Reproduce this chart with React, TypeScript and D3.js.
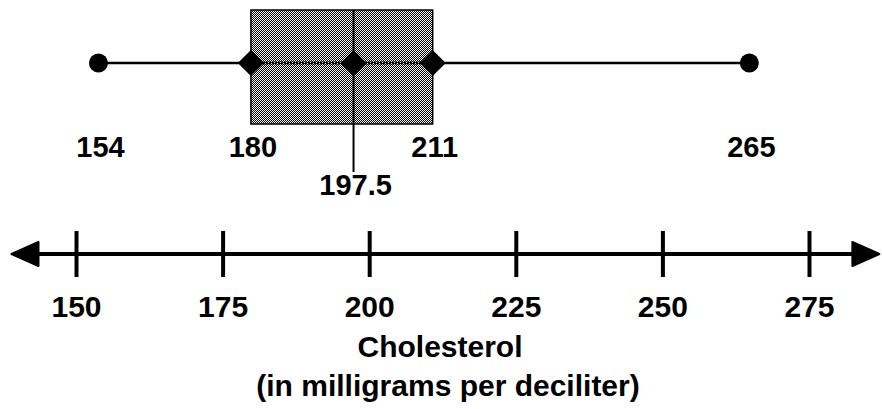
import React, { useRef, useEffect } from "react";
import * as d3 from "d3";

// five-number summary: min, Q1, median, Q3, max
const summaryValues = [154, 180, 197.5, 211, 265];
const summaryLabels = ["154", "180", "197.5", "211", "265"];
const tickValues = [150, 175, 200, 225, 250, 275];
const axisExtent = [139, 287];
const axisTitle = "Cholesterol";
const axisSubtitle = "(in milligrams per deciliter)";

const FONT = "'Liberation Sans', Arial, sans-serif";

const App: React.FC = () => {
  const svgRef = useRef<SVGSVGElement>(null);

  useEffect(() => {
    if (!svgRef.current) return;
    const width = 882;
    const height = 409;

    const svg = d3.select(svgRef.current).attr("width", width).attr("height", height);
    svg.selectAll("*").remove();

    // pattern for the shaded box
    const defs = svg.append("defs");
    const pat = defs
      .append("pattern")
      .attr("id", "dots")
      .attr("width", 2)
      .attr("height", 2)
      .attr("patternUnits", "userSpaceOnUse");
    pat.append("rect").attr("width", 2).attr("height", 2).attr("fill", "#fff");
    pat.append("rect").attr("x", 0).attr("y", 0).attr("width", 1).attr("height", 1).attr("fill", "#000");
    pat.append("rect").attr("x", 1).attr("y", 1).attr("width", 1).attr("height", 1).attr("fill", "#000");

    const x = d3.scaleLinear().domain([150, 275]).range([76, 809]);

    // ---- box plot ----
    const [minV, q1, med, q3, maxV] = summaryValues;
    const boxTop = 10;
    const boxBottom = 124;
    const midY = 63;

    const box = svg.append("g").attr("transform", "translate(-1,0)");
    box
      .append("line")
      .attr("x1", x(minV))
      .attr("x2", x(maxV))
      .attr("y1", midY)
      .attr("y2", midY)
      .attr("stroke", "#000")
      .attr("stroke-width", 2.5);

    box
      .append("rect")
      .attr("x", x(q1))
      .attr("y", boxTop)
      .attr("width", x(q3) - x(q1))
      .attr("height", boxBottom - boxTop)
      .attr("fill", "url(#dots)")
      .attr("stroke", "#000")
      .attr("stroke-width", 1.5);

    // whisker line through the box (dotted look)
    box
      .append("line")
      .attr("x1", x(q1))
      .attr("x2", x(q3))
      .attr("y1", midY)
      .attr("y2", midY)
      .attr("stroke", "#000")
      .attr("stroke-width", 3)
      .attr("stroke-dasharray", "2,1");

    // median line, extends below the box
    box
      .append("line")
      .attr("x1", x(med))
      .attr("x2", x(med))
      .attr("y1", boxTop)
      .attr("y2", 172)
      .attr("stroke", "#000")
      .attr("stroke-width", 2);

    // end dots
    box
      .selectAll("circle")
      .data([minV, maxV])
      .enter()
      .append("circle")
      .attr("cx", (d) => x(d))
      .attr("cy", midY)
      .attr("r", 9.5)
      .attr("fill", "#000");

    // diamonds at Q1, median, Q3
    const diamond = d3.symbol().type(d3.symbolSquare).size(340);
    box
      .selectAll("path.diamond")
      .data([q1, med, q3])
      .enter()
      .append("path")
      .attr("class", "diamond")
      .attr("d", diamond)
      .attr("transform", (d) => `translate(${x(d)},${midY}) rotate(45)`)
      .attr("fill", "#000");

    box
      .selectAll("text")
      .data(summaryValues)
      .enter()
      .append("text")
      .attr("x", (d) => x(d) + 2)
      .attr("y", (d) => (d === med ? 195 : 157))
      .attr("text-anchor", "middle")
      .attr("font-family", FONT)
      .attr("font-weight", "bold")
      .attr("font-size", 29)
      .text((_, i) => summaryLabels[i]);

    // ---- number line ----
    const axisY = 254;
    const xl = x(axisExtent[0]);
    const xr = x(axisExtent[1]);
    const headLen = 27;
    const headHalf = 12;

    svg
      .append("line")
      .attr("x1", xl + headLen)
      .attr("x2", xr - headLen)
      .attr("y1", axisY)
      .attr("y2", axisY)
      .attr("stroke", "#000")
      .attr("stroke-width", 4);

    svg
      .append("path")
      .attr("d", `M${xl},${axisY}L${xl + headLen},${axisY - headHalf}L${xl + headLen},${axisY + headHalf}Z`)
      .attr("fill", "#000")
      .attr("stroke", "#000")
      .attr("stroke-width", 2)
      .attr("stroke-linejoin", "round");
    svg
      .append("path")
      .attr("d", `M${xr},${axisY}L${xr - headLen},${axisY - headHalf}L${xr - headLen},${axisY + headHalf}Z`)
      .attr("fill", "#000")
      .attr("stroke", "#000")
      .attr("stroke-width", 2)
      .attr("stroke-linejoin", "round");

    const axis = d3
      .axisBottom(x)
      .tickValues(tickValues)
      .tickSize(46)
      .tickPadding(19)
      .tickFormat(d3.format("d"));

    const g = svg
      .append("g")
      .attr("transform", `translate(0,${axisY - 23})`)
      .call(axis);
    g.select(".domain").remove();
    g.selectAll(".tick line").attr("stroke", "#000").attr("stroke-width", 4);
    g.selectAll(".tick text")
      .attr("fill", "#000")
      .attr("font-family", FONT)
      .attr("font-weight", "bold")
      .attr("font-size", 30);

    svg
      .append("text")
      .attr("x", 440)
      .attr("y", 357)
      .attr("text-anchor", "middle")
      .attr("font-family", FONT)
      .attr("font-weight", "bold")
      .attr("font-size", 30)
      .text(axisTitle);

    svg
      .append("text")
      .attr("x", 448)
      .attr("y", 396)
      .attr("text-anchor", "middle")
      .attr("font-family", FONT)
      .attr("font-weight", "bold")
      .attr("font-size", 30)
      .text(axisSubtitle);
  }, []);

  return (
    <svg
      ref={svgRef}
      style={{ position: "absolute", left: 0, top: 0, background: "#fff" }}
    ></svg>
  );
};

export default App;
